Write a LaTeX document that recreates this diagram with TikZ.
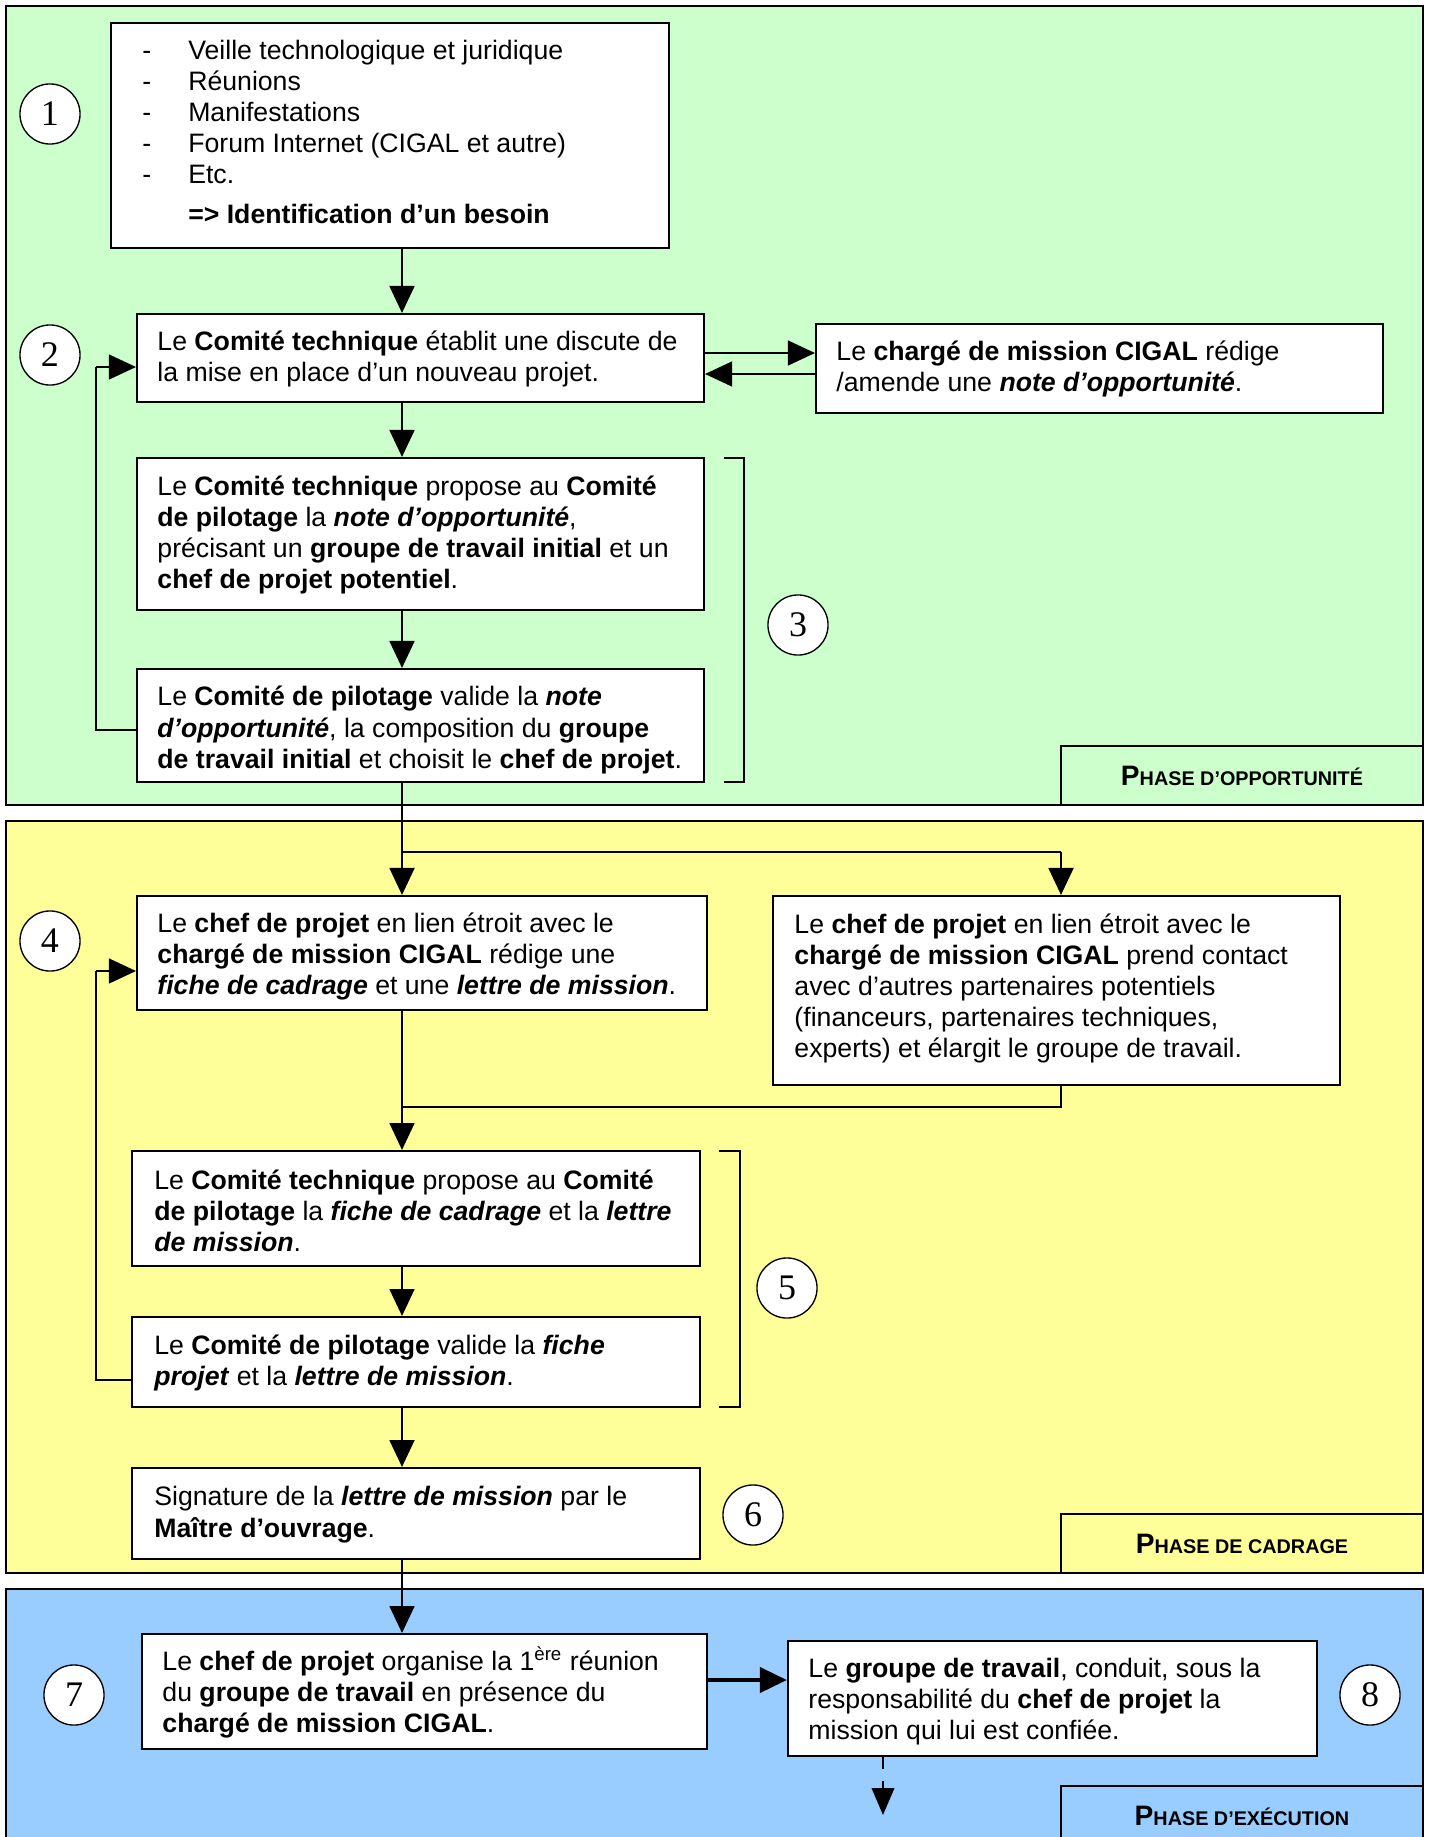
\documentclass[tikz,border=0pt]{standalone}
\usepackage{fontspec}
\setmainfont{Liberation Sans}
\newfontfamily\serifnum{Liberation Serif}
\usetikzlibrary{arrows.meta,fit}
\definecolor{pgreen}{HTML}{CCFFCC}
\definecolor{pyellow}{HTML}{FFFF99}
\definecolor{pblue}{HTML}{99CCFF}
\begin{document}
\begin{tikzpicture}[x=0.44444pt, y=-0.44444pt,
  box/.style={draw, line width=0.9pt, fill=white, inner sep=0pt},
  txt/.style={anchor=west, align=left, inner sep=0pt, font=\fontsize{11.85}{13.8}\selectfont},
  num/.style={circle, draw, line width=0.6pt, fill=white, minimum size=26.7pt, inner sep=0pt, font=\serifnum\fontsize{16}{16}\selectfont},
  arr/.style={line width=1.2pt, -{Triangle[length=12pt,width=11pt]}},
  harr/.style={line width=0.9pt, -{Triangle[length=12pt,width=11pt]}},
  ln/.style={line width=0.8pt},
  brk/.style={line width=0.6pt},
  panel/.style={line width=1.2pt},
  lbl/.style={draw, line width=0.9pt, inner sep=0pt},
  lbltxt/.style={inner sep=0pt, font=\bfseries\fontsize{12.5}{13}\selectfont},
]
\useasboundingbox (0,0) rectangle (1429,1837);

% panels
\fill[pgreen] (6,6) rectangle (1423,805);
\draw[panel] (6,6) rectangle (1423,805);
\filldraw[fill=pyellow, panel] (6,821) rectangle (1423,1573);
\fill[pblue] (6,1589) rectangle (1423,1845);
\draw[panel] (6,1845) -- (6,1589) -- (1423,1589) -- (1423,1845);

% phase labels
\node[lbl, fill=pgreen, fit={(1061,746)(1423,805)}] (L1) {};
\node[lbltxt] (L1t) at (L1.center) {P\fontsize{8.8}{10}\selectfont HASE D’OPPORTUNITÉ};
\node[lbl, fill=pyellow, fit={(1061,1514)(1423,1573)}] (L2) {};
\node[lbltxt] (L2t) at (L2.center) {P\fontsize{8.8}{10}\selectfont HASE DE CADRAGE};
\node[lbl, fill=pblue, fit={(1061,1786)(1423,1845)}] (L3) {};
\node[lbltxt] (L3t) at (L3.center) {P\fontsize{8.8}{10}\selectfont HASE D’EXÉCUTION};

% boxes
\node[box, fit={(111,23)(669,248)}] (b1) {};
\node[txt] (t1) at ([xshift=14.2pt,yshift=1.5pt]b1.west) {%
\makebox[20.4pt][l]{-}Veille technologique et juridique\\
\makebox[20.4pt][l]{-}Réunions\\
\makebox[20.4pt][l]{-}Manifestations\\
\makebox[20.4pt][l]{-}Forum Internet (CIGAL et autre)\\
\makebox[20.4pt][l]{-}Etc.\\[4pt]
\makebox[20.4pt][l]{}\textbf{=> Identification d’un besoin}};

\node[box, fit={(137,314)(704,402)}] (b2) {};
\node[txt] (t2) at ([xshift=9.33pt,yshift=-0.5pt]b2.west) {Le \textbf{Comité technique} établit une discute de\\la mise en place d’un nouveau projet.};

\node[box, fit={(816,324)(1383,413)}] (cm) {};
\node[txt] (tcm) at ([xshift=9.33pt]cm.west) {Le \textbf{chargé de mission CIGAL} rédige\\/amende une \textbf{\textit{note d’opportunité}}.};

\node[box, fit={(137,458)(704,610)}] (b3a) {};
\node[txt] (t3a) at ([xshift=9.33pt,yshift=-0.5pt]b3a.west) {Le \textbf{Comité technique} propose au \textbf{Comité}\\\textbf{de pilotage} la \textbf{\textit{note d’opportunité}},\\précisant un \textbf{groupe de travail initial} et un\\\textbf{chef de projet potentiel}.};

\node[box, fit={(137,669)(704,782)}] (b3b) {};
\node[txt] (t3b) at ([xshift=9.33pt,yshift=-2pt]b3b.west) {Le \textbf{Comité de pilotage} valide la \textbf{\textit{note}}\\\textbf{\textit{d’opportunité}}, la composition du \textbf{groupe}\\\textbf{de travail initial} et choisit le \textbf{chef de projet}.};

\node[box, fit={(137,896)(707,1010)}] (b4) {};
\node[txt] (t4) at ([xshift=9.33pt,yshift=-1.5pt]b4.west) {Le \textbf{chef de projet} en lien étroit avec le\\\textbf{chargé de mission CIGAL} rédige une\\\textbf{\textit{fiche de cadrage}} et une \textbf{\textit{lettre de mission}}.};

\node[box, fit={(773,896)(1340,1085)}] (b4b) {};
\node[txt] (t4b) at ([xshift=9.8pt,yshift=1pt]b4b.west) {Le \textbf{chef de projet} en lien étroit avec le\\\textbf{chargé de mission CIGAL} prend contact\\avec d’autres partenaires potentiels\\(financeurs, partenaires techniques,\\experts) et élargit le groupe de travail.};

\node[box, fit={(132,1151)(700,1266)}] (b5a) {};
\node[txt] (t5a) at ([xshift=10.2pt,yshift=-1pt]b5a.west) {Le \textbf{Comité technique} propose au \textbf{Comité}\\\textbf{de pilotage} la \textbf{\textit{fiche de cadrage}} et la \textbf{\textit{lettre}}\\\textbf{\textit{de mission}}.};

\node[box, fit={(132,1317)(700,1407)}] (b5b) {};
\node[txt] (t5b) at ([xshift=10.2pt,yshift=-0.5pt]b5b.west) {Le \textbf{Comité de pilotage} valide la \textbf{\textit{fiche}}\\\textbf{\textit{projet}} et la \textbf{\textit{lettre de mission}}.};

\node[box, fit={(132,1468)(700,1559)}] (b6) {};
\node[txt] (t6) at ([xshift=10.2pt,yshift=-0.5pt]b6.west) {Signature de la \textbf{\textit{lettre de mission}} par le\\\textbf{Maître d’ouvrage}.};

\node[box, fit={(142,1634)(707,1749)}] (b7) {};
\node[txt] (t7) at ([xshift=9.33pt,yshift=-0.5pt]b7.west) {Le \textbf{chef de projet} organise la 1\textsuperscript{ère} réunion\\du \textbf{groupe de travail} en présence du\\\textbf{chargé de mission CIGAL}.};

\node[box, fit={(788,1641)(1317,1756)}] (b8) {};
\node[txt] (t8) at ([xshift=9.33pt,yshift=-1.5pt]b8.west) {Le \textbf{groupe de travail}, conduit, sous la\\responsabilité du \textbf{chef de projet} la\\mission qui lui est confiée.};

% number circles
\node[num] (c1) at (50,114) {1};
\node[num] (c2) at (50,355) {2};
\node[num] (c3) at (798,625) {3};
\node[num] (c4) at (50,941) {4};
\node[num] (c5) at (787,1288) {5};
\node[num] (c6) at (753,1515) {6};
\node[num] (c7) at (74,1695) {7};
\node[num] (c8) at (1370,1695) {8};

% brackets
\draw[brk] (724,458) -- (744,458) -- (744,782) -- (724,782);
\draw[brk] (719,1151) -- (740,1151) -- (740,1407) -- (719,1407);

% helper coordinates
\coordinate (mx) at (402,0);
\coordinate (ya) at (0,353);
\coordinate (yb) at (0,374);
\coordinate (l2a) at (96,730);
\coordinate (l2b) at (96,367);
\coordinate (l4a) at (96,1380);
\coordinate (l4b) at (96,971);
\coordinate (br) at (1061,852);
\coordinate (mg) at (1061,1107);
\coordinate (y78) at (0,1680);
\coordinate (dx) at (883,1815);

% connectors
\draw[arr] (b1.south -| mx) -- (b2.north -| mx);
\draw[harr] (b2.east |- ya) -- (cm.west |- ya);
\draw[harr] (cm.west |- yb) -- (b2.east |- yb);
\draw[arr] (b2.south -| mx) -- (b3a.north -| mx);
\draw[arr] (b3a.south -| mx) -- (b3b.north -| mx);
\draw[ln] (b3b.west |- l2a) -- (l2a) -- (l2b);
\draw[harr] (l2b) -- (b2.west |- l2b);
\draw[arr] (b3b.south -| mx) -- (b4.north -| mx);
\draw[ln] (mx |- br) -- (br);
\draw[arr] (br) -- (b4b.north -| br);
\draw[arr] (b4.south -| mx) -- (b5a.north -| mx);
\draw[ln] (b4b.south -| mg) -- (mg) -- (mx |- mg);
\draw[arr] (b5a.south -| mx) -- (b5b.north -| mx);
\draw[ln] (b5b.west |- l4a) -- (l4a) -- (l4b);
\draw[harr] (l4b) -- (b4.west |- l4b);
\draw[arr] (b5b.south -| mx) -- (b6.north -| mx);
\draw[arr] (b6.south -| mx) -- (b7.north -| mx);
\draw[line width=2pt, -{Triangle[length=12pt,width=11pt]}] (b7.east |- y78) -- (b8.west |- y78);
\draw[line width=1pt, dash pattern=on 5.3pt off 5.3pt, -{Triangle[length=12pt,width=10pt]}] (b8.south -| dx) -- (dx);
\end{tikzpicture}
\end{document}
